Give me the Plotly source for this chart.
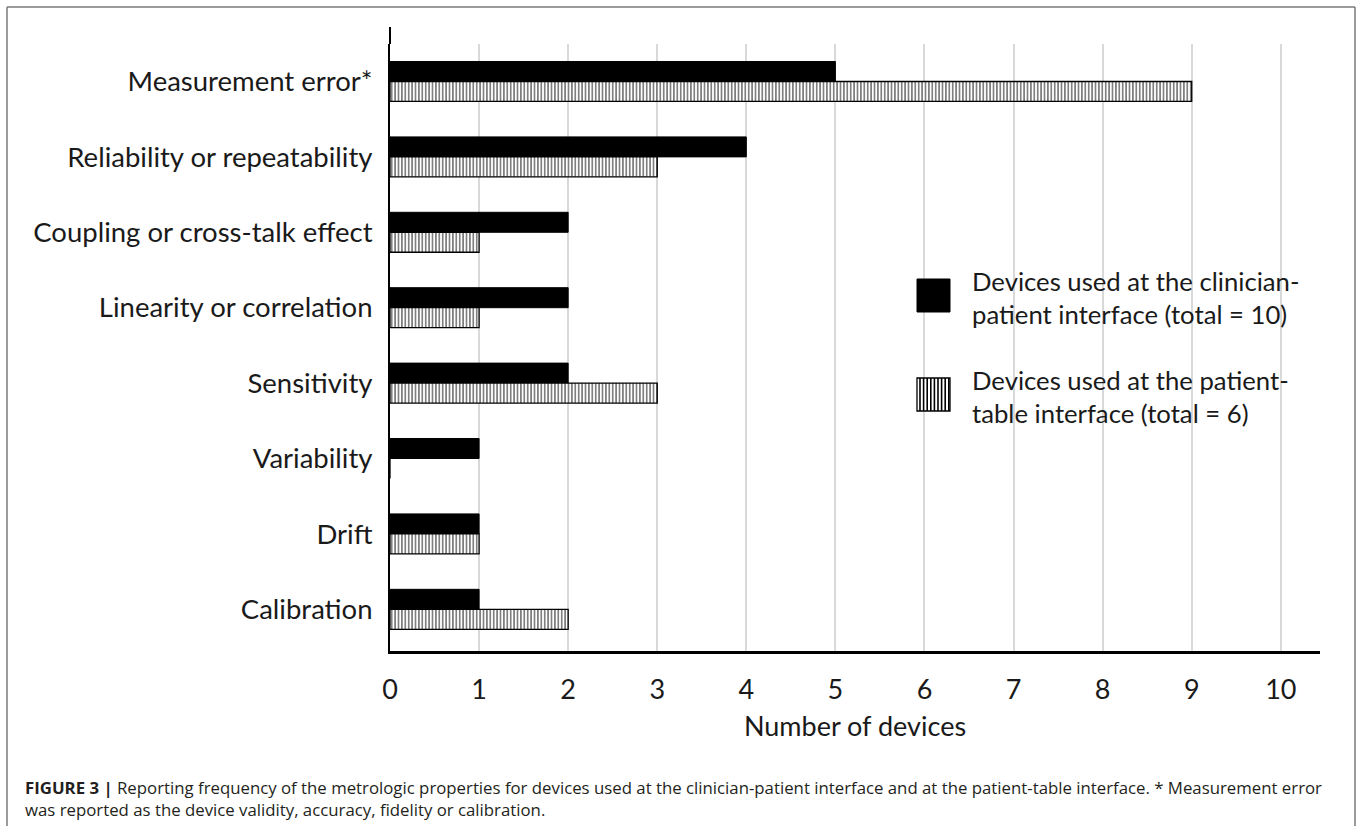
import plotly.graph_objects as go

categories = [
    "Measurement error*",
    "Reliability or repeatability",
    "Coupling or cross-talk effect",
    "Linearity or correlation",
    "Sensitivity",
    "Variability",
    "Drift",
    "Calibration",
]
clinician_patient = [5, 4, 2, 2, 2, 1, 1, 1]
patient_table = [9, 3, 1, 1, 3, 0, 1, 2]
series_names = [
    "Devices used at the clinician-<br>patient interface (total = 10)",
    "Devices used at the patient-<br>table interface (total = 6)",
]
x_ticks = list(range(0, 11))
caption = ("<b>FIGURE 3 |</b> Reporting frequency of the metrologic properties for devices used at the "
           "clinician-patient interface and at the patient-table interface. * Measurement error<br>"
           "was reported as the device validity, accuracy, fidelity or calibration.")

W, H = 1357, 826
L, R, T, B = 390, 1320, 44, 651  # plot area in pixels


def px(xp):
    return (xp - L) / (R - L)


def py(yp):
    return (B - yp) / (B - T)


FONT = "Lato, 'Open Sans', sans-serif"
CAPFONT = "'Open Sans', 'Liberation Sans', Arial, sans-serif"

fig = go.Figure()
fig.add_trace(go.Bar(
    y=categories, x=clinician_patient, orientation="h", name=series_names[0],
    marker=dict(color="black", line=dict(color="black", width=1)),
    showlegend=False,
))
fig.add_trace(go.Bar(
    y=categories, x=patient_table, orientation="h", name=series_names[1],
    marker=dict(color="white", line=dict(color="black", width=1.3),
                pattern=dict(shape="|", fgcolor="black", bgcolor="white",
                             size=3.4, solidity=0.5, fillmode="overlay")),
    showlegend=False,
))

shapes = []
# outer frame (top, left, right)
frame = dict(type="line", xref="paper", yref="paper",
             line=dict(color="#7a7a7a", width=1.5), layer="above")
shapes.append({**frame, "x0": px(7), "x1": px(1355), "y0": py(7), "y1": py(7)})
shapes.append({**frame, "x0": px(7), "x1": px(7), "y0": py(7), "y1": py(826)})
shapes.append({**frame, "x0": px(1355), "x1": px(1355), "y0": py(7), "y1": py(826)})
# y-axis line stub above plot area
shapes.append(dict(type="line", xref="paper", yref="paper", x0=px(390), x1=px(390),
                   y0=py(27), y1=py(44), line=dict(color="black", width=2)))

# legend keys
shapes.append(dict(type="rect", xref="paper", yref="paper",
                   x0=px(917), x1=px(950), y0=py(279), y1=py(312),
                   fillcolor="black", line=dict(color="black", width=1)))
shapes.append(dict(type="rect", xref="paper", yref="paper",
                   x0=px(917), x1=px(950), y0=py(378), y1=py(411),
                   fillcolor="white", line=dict(color="black", width=1.3)))
xs = 920.0
while xs < 949:
    shapes.append(dict(type="line", xref="paper", yref="paper",
                       x0=px(xs), x1=px(xs), y0=py(378), y1=py(411),
                       line=dict(color="black", width=1.6)))
    xs += 3.6

annotations = [
    dict(xref="paper", yref="paper", x=px(970), y=py(297), xanchor="left", yanchor="middle",
         text=series_names[0], showarrow=False, align="left",
         font=dict(family=FONT, size=25.7, color="#1a1a1a")),
    dict(xref="paper", yref="paper", x=px(970), y=py(396), xanchor="left", yanchor="middle",
         text=series_names[1], showarrow=False, align="left",
         font=dict(family=FONT, size=25.7, color="#1a1a1a")),
    dict(xref="paper", yref="paper", x=px(23), y=py(798), xanchor="left", yanchor="middle",
         text=caption, showarrow=False, align="left",
         font=dict(family=CAPFONT, size=16.8, color="#231f20")),
]

fig.update_layout(
    width=W, height=H,
    margin=dict(l=L, r=W - R, t=T, b=H - B, pad=0),
    paper_bgcolor="white", plot_bgcolor="white",
    barmode="group", bargap=0.47, bargroupgap=0,
    showlegend=False,
    font=dict(family=FONT, color="#1a1a1a"),
    shapes=shapes, annotations=annotations,
)
fig.update_xaxes(
    range=[0, 10.44], tickvals=x_ticks, ticktext=[str(v) for v in x_ticks],
    showgrid=True, gridcolor="#d9d9d9", gridwidth=1.5,
    showline=True, linecolor="black", linewidth=2.5,
    ticks="", ticklabelstandoff=13, tickfont=dict(family=FONT, size=27, color="#1a1a1a"),
    title=dict(text="Number of devices", font=dict(family=FONT, size=27, color="#1a1a1a"), standoff=13),
    zeroline=False,
)
fig.update_yaxes(
    categoryorder="array", categoryarray=categories,
    range=[7.553, -0.497],
    showgrid=False, showline=True, linecolor="black", linewidth=2,
    ticks="", ticklabelstandoff=10, tickfont=dict(family=FONT, size=27.5, color="#1a1a1a"),
)

fig.write_html("out.html", config={"displayModeBar": False},
               post_script="document.body.style.margin='0px';")
